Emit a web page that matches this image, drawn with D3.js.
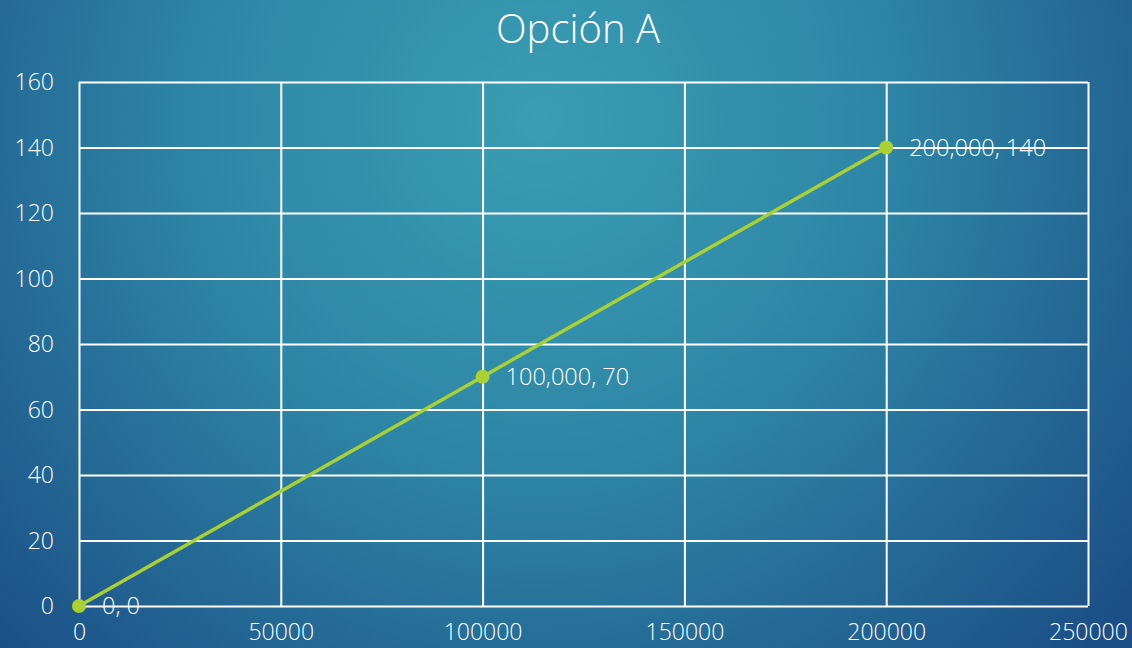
<!DOCTYPE html>
<html><head><meta charset="utf-8">
<script src="https://cdn.jsdelivr.net/npm/d3@7"></script>
<style>html,body{margin:0;padding:0;overflow:hidden;}svg{display:block;}</style>
</head><body>
<script>
const title = "Opción A";
const xValues = [0, 100000, 200000];
const yValues = [0, 70, 140];
const pointLabels = ["0, 0", "100,000, 70", "200,000, 140"];
const xTicks = [0, 50000, 100000, 150000, 200000, 250000];
const yTicks = [0, 20, 40, 60, 80, 100, 120, 140, 160];

const W = 1132, H = 648;
const font = "'Open Sans', sans-serif";
const svg = d3.select("body").append("svg").attr("width", W).attr("height", H);
const defs = svg.append("defs");
const grad = defs.append("radialGradient").attr("id","bg")
  .attr("gradientUnits","userSpaceOnUse").attr("cx",540).attr("cy",120).attr("r",760);
grad.append("stop").attr("offset","0").attr("stop-color","#3a9db3");
grad.append("stop").attr("offset","0.45").attr("stop-color","#2e86a6");
grad.append("stop").attr("offset","1").attr("stop-color","#1c4f86");
svg.append("rect").attr("width",W).attr("height",H).attr("fill","url(#bg)");

const x = d3.scaleLinear().domain([0,250000]).range([79,1088]);
const y = d3.scaleLinear().domain([0,160]).range([606,82]);

svg.append("text").attr("x",578).attr("y",43).attr("text-anchor","middle")
  .attr("fill","#fff").attr("font-family",font).attr("font-weight",300).attr("font-size",40).text(title);

// grid
svg.append("g").attr("transform","translate(79,0)")
  .call(d3.axisLeft(y).tickValues(yTicks).tickSize(-(1088-79)).tickFormat(""))
  .call(g=>g.select(".domain").remove())
  .call(g=>g.selectAll("line").attr("stroke","#fff").attr("stroke-width",2));
svg.append("g").attr("transform","translate(0,606)")
  .call(d3.axisBottom(x).tickValues(xTicks).tickSize(-(606-82)).tickFormat(""))
  .call(g=>g.select(".domain").remove())
  .call(g=>g.selectAll("line").attr("stroke","#fff").attr("stroke-width",2));

// tick labels
svg.append("g").attr("transform","translate(57,0)")
  .call(d3.axisLeft(y).tickValues(yTicks).tickSize(0).tickFormat(d3.format("d")))
  .call(g=>g.select(".domain").remove())
  .call(g=>g.selectAll("text").attr("fill","#fff").attr("font-family",font).attr("font-weight",300).attr("font-size",23).attr("dy","0.34em"));
svg.append("g").attr("transform","translate(0,621)")
  .call(d3.axisBottom(x).tickValues(xTicks).tickSize(0).tickFormat(d3.format("d")))
  .call(g=>g.select(".domain").remove())
  .call(g=>g.selectAll("text").attr("fill","#fff").attr("font-family",font).attr("font-weight",300).attr("font-size",23).attr("dy","0.71em"));

const pts = xValues.map((v,i)=>({x:v,y:yValues[i],label:pointLabels[i]}));
svg.append("path").datum(pts)
  .attr("d", d3.line().x(d=>x(d.x)).y(d=>y(d.y)))
  .attr("fill","none").attr("stroke","#a9d134").attr("stroke-width",3.5);
svg.selectAll("circle.pt").data(pts).join("circle")
  .attr("cx",d=>x(d.x)).attr("cy",d=>y(d.y)).attr("r",7).attr("fill","#a9d134");
svg.selectAll("text.lbl").data(pts).join("text")
  .attr("x",d=>x(d.x)+23).attr("y",d=>y(d.y)).attr("dy","0.36em")
  .attr("fill","#fff").attr("font-family",font).attr("font-weight",300).attr("font-size",23.5).text(d=>d.label);
</script>
</body></html>
